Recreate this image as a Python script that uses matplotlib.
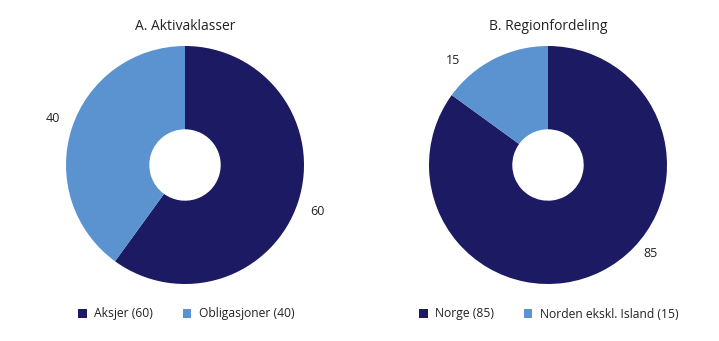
import matplotlib.pyplot as plt
from matplotlib.patches import Patch

plt.rcParams['font.family'] = ['Open Sans', 'DejaVu Sans']

dark = '#1b1a62'
light = '#5b93d0'

titles = ['A. Aktivaklasser', 'B. Regionfordeling']
names_a = ['Aksjer', 'Obligasjoner']
values_a = [60, 40]
names_b = ['Norge', 'Norden ekskl. Island']
values_b = [85, 15]

fig = plt.figure(figsize=(7.19, 3.41), dpi=100)

# centres / radius in pixels
R = 119
centres = [(185, 165), (548, 165)]
# label positions in units of radius
label_pos = [[(1.11, -0.39), (-1.11, 0.39)], [(0.86, -0.74), (-0.80, 0.88)]]
legend_x = [72, 413]

for i, (names, values) in enumerate([(names_a, values_a), (names_b, values_b)]):
    cx, cy = centres[i]
    ax = fig.add_axes([(cx - R) / 719, (341 - cy - R) / 341, 2 * R / 719, 2 * R / 341])
    wedges, _ = ax.pie(values, colors=[dark, light], startangle=90, counterclock=False,
                       radius=1, wedgeprops=dict(width=0.7, linewidth=0))
    ax.set_xlim(-1, 1)
    ax.set_ylim(-1, 1)
    for v, (lx, ly) in zip(values, label_pos[i]):
        ax.text(lx, ly, str(v), ha='center', va='center', fontsize=9, color='#222222')
    fig.text(cx / 719, 1 - 27 / 341, titles[i], ha='center', va='center', fontsize=10, color='#222222')
    handles = [Patch(facecolor=c, edgecolor='none') for c in [dark, light]]
    fig.legend(handles, [f'{n} ({v})' for n, v in zip(names, values)], ncol=2,
               loc='center left', bbox_to_anchor=(legend_x[i] / 719, 1 - 314 / 341),
               frameon=False, fontsize=8.7, handlelength=0.7, handleheight=0.7,
               handletextpad=0.6, columnspacing=2.5, borderpad=0, labelcolor='#222222')

fig.savefig('out.png', dpi=100)
